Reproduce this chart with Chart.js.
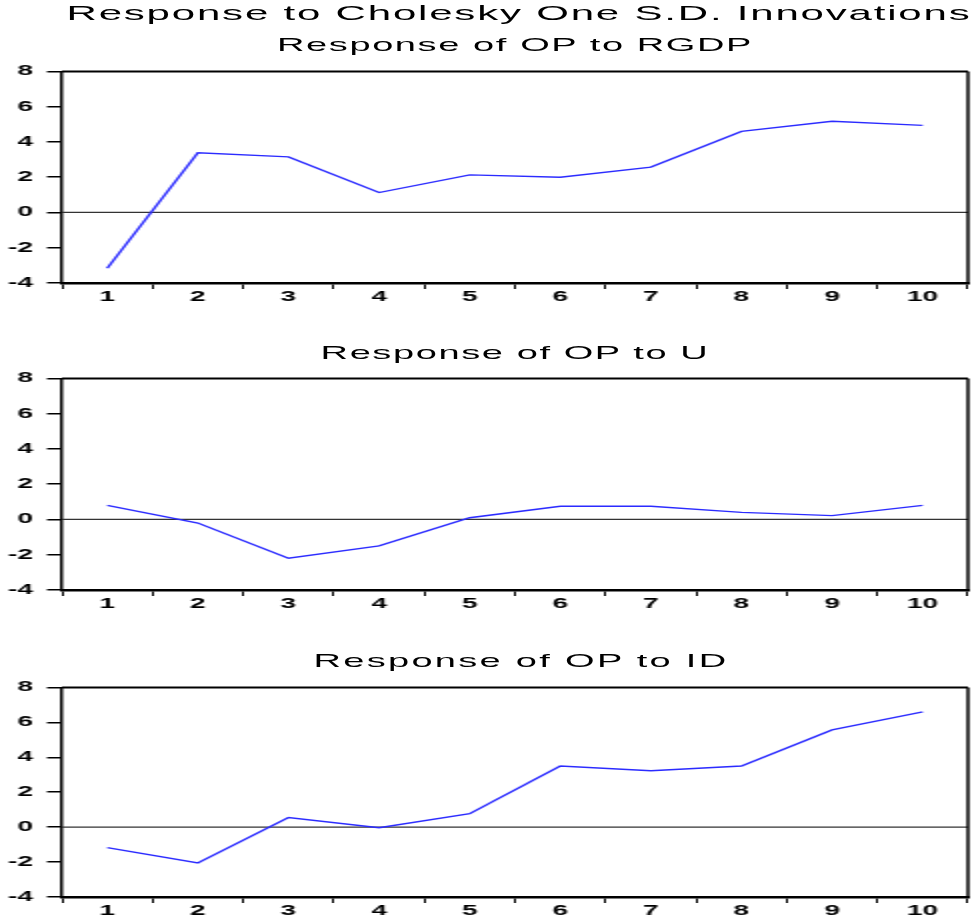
<!DOCTYPE html>
<html>
<head>
<meta charset="utf-8">
<script src="https://cdn.jsdelivr.net/npm/chart.js@4.4.0/dist/chart.umd.min.js"></script>
<style>
  html, body { margin: 0; padding: 0; background: #fff; overflow: hidden; width: 974px; height: 919px; }
  /* the original picture is stretched sideways, so draw at half width and scale x2 */
  #page { position: absolute; left: 0; top: 0; width: 487px; height: 919px; transform: scaleX(2); transform-origin: 0 0; }
  .ttl { position: absolute; left: 31px; width: 453px; text-align: center; font-family: "Liberation Sans", Arial, sans-serif;
         color: #000; line-height: 1; white-space: nowrap; }
  .main { font-size: 21px; letter-spacing: 0.9px; top: 2px; left: 33px; }
  .sub { font-size: 19px; letter-spacing: 0.8px; }
  .box { position: absolute; left: 0; width: 487px; }
</style>
</head>
<body>
<div id="page">
  <div class="ttl main">Response to Cholesky One S.D. Innovations</div>
  <div class="ttl sub" style="top:35px">Response of OP to RGDP</div>
  <div class="ttl sub" style="top:343px">Response of OP to U</div>
  <div class="ttl sub" style="top:651px;letter-spacing:1.15px;left:34px">Response of OP to ID</div>
  <div class="box" style="top:56px;height:252px"><canvas id="c1"></canvas></div>
  <div class="box" style="top:363px;height:252px"><canvas id="c2"></canvas></div>
  <div class="box" style="top:672px;height:250px"><canvas id="c3"></canvas></div>
</div>
<script>
// periods
const periods = ["1", "2", "3", "4", "5", "6", "7", "8", "9", "10"];

// responses of OP
const opToRgdp = [-3.17, 3.38, 3.15, 1.13, 2.13, 2.0, 2.57, 4.6, 5.17, 4.94];
const opToU = [0.8, -0.2, -2.2, -1.5, 0.1, 0.75, 0.75, 0.4, 0.22, 0.8];
const opToId = [-1.17, -2.05, 0.55, -0.03, 0.77, 3.5, 3.23, 3.5, 5.57, 6.6];

// y axis range
const yMin = -4;
const yMax = 8;
const yStep = 2;

const tickFont = { family: "'Liberation Sans', Arial, sans-serif", size: 14, weight: "bold" };

// zero line + top/right frame
const framePlugin = {
  id: "frame",
  beforeDatasetsDraw(chart) {
    const { ctx, chartArea } = chart;
    const y0 = chart.scales.y.getPixelForValue(0);
    ctx.save();
    ctx.strokeStyle = "#333";
    ctx.lineWidth = 1.2;
    ctx.beginPath();
    ctx.moveTo(chartArea.left, y0);
    ctx.lineTo(chartArea.right, y0);
    ctx.stroke();
    ctx.restore();
  },
  afterDraw(chart) {
    const { ctx, chartArea } = chart;
    ctx.save();
    ctx.strokeStyle = "#000";
    ctx.lineWidth = 2;
    ctx.beginPath();
    ctx.moveTo(chartArea.left, chartArea.top);
    ctx.lineTo(chartArea.right, chartArea.top);
    ctx.stroke();
    ctx.lineWidth = 1.5;
    ctx.beginPath();
    ctx.moveTo(chartArea.right, chartArea.top);
    ctx.lineTo(chartArea.right, chartArea.bottom + 1);
    ctx.stroke();
    ctx.restore();
  }
};

function makeChart(id, values) {
  return new Chart(document.getElementById(id), {
    type: "line",
    data: {
      labels: periods,
      datasets: [{
        data: values,
        borderColor: "#2b2bff",
        borderWidth: 1.4,
        pointRadius: 0,
        fill: false,
        tension: 0,
      }],
    },
    options: {
      responsive: true,
      maintainAspectRatio: false,
      animation: false,
      layout: { padding: { left: 0, right: 3, top: 6, bottom: 0 } },
      plugins: { legend: { display: false }, tooltip: { enabled: false } },
      scales: {
        x: {
          type: "category",
          offset: true,
          grid: { offset: true, drawOnChartArea: false, tickLength: 6, color: "#000", lineWidth: 1 },
          border: { display: true, color: "#000", width: 2.5 },
          ticks: { font: tickFont, color: "#000", padding: 0, maxRotation: 0, autoSkip: false },
          afterFit(scale) { scale.height = 25; },
        },
        y: {
          min: yMin,
          max: yMax,
          ticks: { stepSize: yStep, font: tickFont, color: "#000", padding: 7 },
          grid: { drawOnChartArea: false, tickLength: 7.5, color: "#000", lineWidth: 1.5 },
          border: { display: true, color: "#000", width: 1.5 },
          afterFit(scale) { scale.width = 31; },
        },
      },
    },
    plugins: [framePlugin],
  });
}

makeChart("c1", opToRgdp);
makeChart("c2", opToU);
makeChart("c3", opToId);
</script>
</body>
</html>
